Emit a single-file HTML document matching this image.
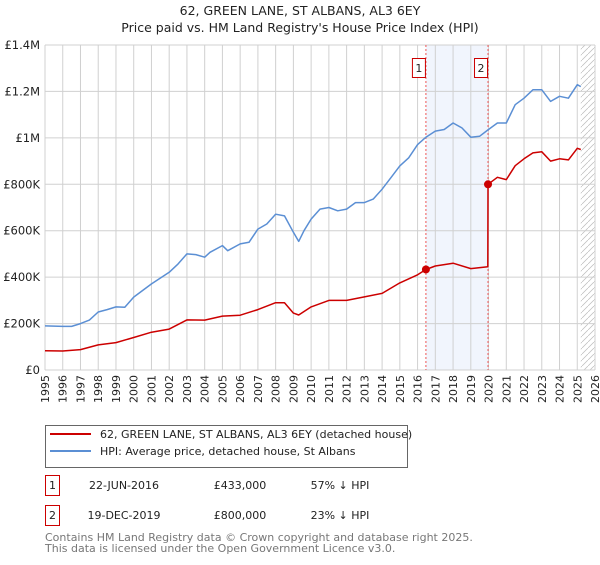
<!DOCTYPE html>
<html><head><meta charset="utf-8"><style>
body{margin:0;background:#fff;font-family:"Liberation Sans","DejaVu Sans",sans-serif}
</style></head><body>
<svg width="600" height="560" xmlns="http://www.w3.org/2000/svg" font-family="DejaVu Sans, Liberation Sans, sans-serif">
<text x="300" y="15" text-anchor="middle" font-size="12.5" fill="#222">62, GREEN LANE, ST ALBANS, AL3 6EY</text>
<text x="300" y="32" text-anchor="middle" font-size="12.5" fill="#222">Price paid vs. HM Land Registry's House Price Index (HPI)</text>
<g id="plot"></g>
<g>
<rect x="45.5" y="425.5" width="362" height="42" fill="#fff" stroke="#666"/>
<line x1="50" y1="434" x2="91" y2="434" stroke="#cc0000" stroke-width="2"/>
<text x="100" y="438" font-size="11" fill="#222">62, GREEN LANE, ST ALBANS, AL3 6EY (detached house)</text>
<line x1="50" y1="451" x2="91" y2="451" stroke="#5b8fd4" stroke-width="2"/>
<text x="100" y="455" font-size="11" fill="#222">HPI: Average price, detached house, St Albans</text>
</g>
<g font-size="11" fill="#222">
<rect x="45.5" y="475.5" width="14" height="20" fill="#fff" stroke="#cc0000"/>
<text x="52.5" y="489" text-anchor="middle">1</text>
<text x="124" y="489" text-anchor="middle">22-JUN-2016</text>
<text x="240" y="489" text-anchor="middle">£433,000</text>
<text x="340" y="489" text-anchor="middle">57% ↓ HPI</text>
<rect x="45.5" y="505.5" width="14" height="20" fill="#fff" stroke="#cc0000"/>
<text x="52.5" y="519" text-anchor="middle">2</text>
<text x="124" y="519" text-anchor="middle">19-DEC-2019</text>
<text x="240" y="519" text-anchor="middle">£800,000</text>
<text x="340" y="519" text-anchor="middle">23% ↓ HPI</text>
</g>
<text x="45" y="541" font-size="11" fill="#777">Contains HM Land Registry data © Crown copyright and database right 2025.</text>
<text x="45" y="552" font-size="11" fill="#777">This data is licensed under the Open Government Licence v3.0.</text>
</svg>
<script>
const hpiYears=[1995,1996,1996.5,1997,1997.5,1998,1998.5,1999,1999.5,2000,2001,2002,2002.5,2003,2003.5,2004,2004.3,2005,2005.3,2006,2006.5,2007,2007.5,2008,2008.5,2009,2009.3,2009.6,2010,2010.5,2011,2011.5,2012,2012.5,2013,2013.5,2014,2014.5,2015,2015.5,2016,2016.47,2017,2017.5,2018,2018.5,2019,2019.5,2020,2020.5,2021,2021.5,2022,2022.5,2023,2023.5,2024,2024.5,2025,2025.2];
const hpiValues=[190,188,188,200,215,250,260,272,270,314,371,421,457,500,497,486,507,536,514,543,550,607,629,671,664,593,554,600,650,693,700,686,693,721,721,736,779,829,879,914,971,1003,1029,1036,1064,1043,1003,1007,1036,1064,1064,1143,1171,1207,1207,1157,1179,1171,1229,1221];
const ppYears=[1995,1996,1997,1998,1999,2000,2001,2002,2003,2004,2005,2006,2007,2008,2008.5,2009,2009.3,2010,2011,2012,2013,2014,2015,2016,2016.47,2017,2018,2019,2019.96,2019.97,2020.5,2021,2021.5,2022,2022.5,2023,2023.5,2024,2024.5,2025,2025.2];
const ppValues=[83,82,88,108,118,140,163,176,216,215,232,236,260,290,290,245,237,272,300,300,315,330,375,410,433,448,460,437,445,800,830,820,880,910,935,940,900,910,905,955,950];
const saleYears=[2016.47,2019.97];
const saleValues=[433,800];
const yTicks=[0,200,400,600,800,1000,1200,1400];
const yTickLabels=["£0","£200K","£400K","£600K","£800K","£1M","£1.2M","£1.4M"];
const xTicks=[1995,1996,1997,1998,1999,2000,2001,2002,2003,2004,2005,2006,2007,2008,2009,2010,2011,2012,2013,2014,2015,2016,2017,2018,2019,2020,2021,2022,2023,2024,2025,2026];
const X0=45,X1=595,Y0=370,Y1=45;
const xs=y=>X0+(y-1995)/(2026-1995)*(X1-X0);
const ys=v=>Y0-v/1400*(Y0-Y1);
const NS="http://www.w3.org/2000/svg";
const g=document.getElementById('plot');
function mk(t,a,p){const e=document.createElementNS(NS,t);for(const k in a)e.setAttribute(k,a[k]);(p||g).appendChild(e);return e;}
// shaded region
let sh=mk('rect',{x:xs(saleYears[0]),y:Y1,width:xs(saleYears[1])-xs(saleYears[0]),height:Y0-Y1,fill:'#eef3fc',opacity:0.8});


// hatch
const defs=mk('defs',{});
const pat=mk('pattern',{id:'hatch',patternUnits:'userSpaceOnUse',width:6,height:6},defs);
mk('path',{d:'M0,6 L6,0',stroke:'#bbb','stroke-width':0.7},pat);
let ht=mk('rect',{x:xs(2025.2),y:Y1,width:X1-xs(2025.2),height:Y0-Y1,fill:'url(#hatch)'});


// gridlines
xTicks.forEach(t=>{
 let l=mk('line',{x1:xs(t),x2:xs(t),y1:Y1,y2:Y0,stroke:'#d0d0d0','stroke-width':1});
 
 
 let tx=mk('text',{x:0,y:0,transform:`translate(${xs(t)+4},375) rotate(-90)`,'text-anchor':'end','font-size':11,fill:'#222'});
 tx.textContent=t;
 
 
});
yTicks.forEach((t,i)=>{
 let l=mk('line',{x1:X0,x2:X1,y1:ys(t),y2:ys(t),stroke:'#d0d0d0','stroke-width':1});
 
 
 let tx=mk('text',{x:X0-5,y:ys(t)+4,'text-anchor':'end','font-size':11.5,fill:'#222'});
 tx.textContent=yTickLabels[i];
 
 
});
// vertical sale lines and markers
saleYears.forEach((s,i)=>{
 let l=mk('line',{x1:xs(s),x2:xs(s),y1:Y1,y2:Y0,stroke:'#ee5555','stroke-width':1,'stroke-dasharray':'2,2'});
 
 
 let bx=mk('rect',{x:xs(s)-13.5,y:58.5,width:13,height:19,fill:'#fff',stroke:'#cc0000'});
 
 
 let t=mk('text',{x:xs(s)-7,y:72,'text-anchor':'middle','font-size':11,fill:'#222'});
 t.textContent=i+1;
});
function line(xa,va,col,name){
 let d=xa.map((x,i)=>(i?'L':'M')+xs(x).toFixed(1)+','+ys(va[i]).toFixed(1)).join(' ');
 let p=mk('path',{d:d,fill:'none',stroke:col,'stroke-width':1.5,'stroke-linejoin':'round'});
 
 
}
line(hpiYears,hpiValues,'#5b8fd4','hpi-line');
line(ppYears,ppValues,'#cc0000','price-paid-line');
saleYears.forEach((s,i)=>{
 let c=mk('circle',{cx:xs(s),cy:ys(saleValues[i]),r:4,fill:'#cc0000'});
 
 
});
</script>
</body></html>
